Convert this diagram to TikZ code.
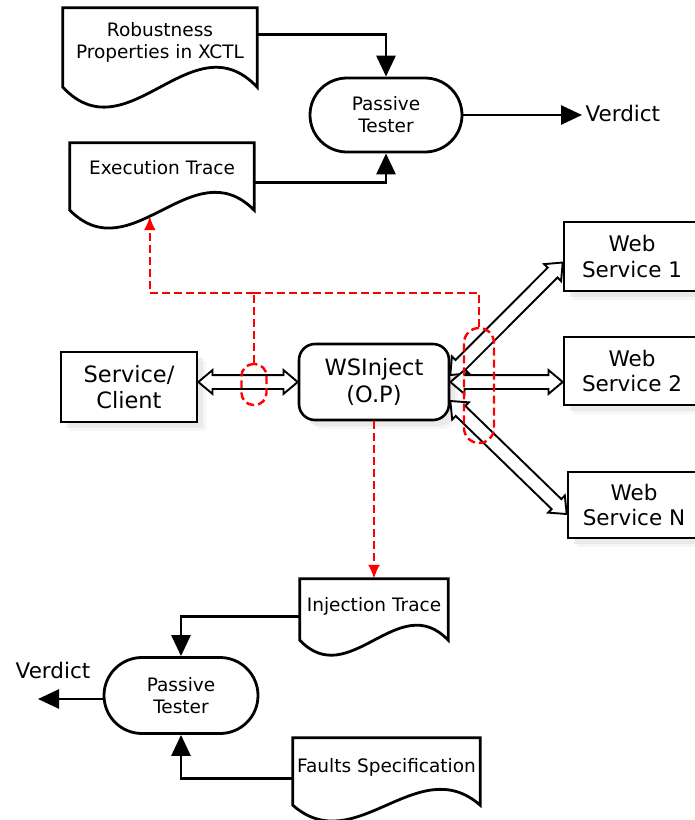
\documentclass[tikz,border=0pt]{standalone}
\usepackage{fontspec}
\setmainfont{DejaVu Sans}
\usetikzlibrary{arrows.meta,calc,shapes.arrows,shadows}
\newcommand{\hollowarrow}[2]{%
  \path let \p1=(#1), \p2=(#2), \n1={atan2(\y2-\y1,\x2-\x1)}, \n2={veclen(\x2-\x1,\y2-\y1)} in
    node[harrow,rotate=\n1,minimum height=\n2] at ($(\p1)!0.5!(\p2)$) {};}
\newcommand{\docoutline}[2]{%
  \draw[docline] (#1.south west) -- (#1.north west) -- (#1.north east) -- (#1.south east)
   .. controls ($(#1.south west)!2/3!(#1.south east)+(0,-#2)$) and ($(#1.south west)!1/3!(#1.south east)+(0,#2)$) .. (#1.south west) -- cycle;}
\begin{document}
\begin{tikzpicture}[x=1pt,y=-1pt,line join=miter,
  flow/.style={line width=2.8pt,-{Triangle[length=21pt,width=19pt]}},
  docshape/.style={draw=none,inner sep=0pt,align=center,font=\fontsize{18.5}{22}\selectfont},
  docline/.style={line width=2.8pt},
  tester/.style={draw,line width=2.8pt,rounded corners=37pt,minimum width=152pt,minimum height=74pt,align=center,font=\fontsize{18.5}{22}\selectfont},
  svc/.style={draw,line width=2.6pt,fill=white,
    drop shadow={shadow xshift=9pt,shadow yshift=-9pt,fill=black!7},
    drop shadow={shadow xshift=6pt,shadow yshift=-6pt,fill=black!13},
    align=center},
  svcfont/.style={font=\fontsize{21.5}{25.5}\selectfont},
  bigfont/.style={font=\fontsize{22.5}{26.5}\selectfont},
  harrow/.style={double arrow,draw,fill=white,line width=1.9pt,inner xsep=0pt,inner ysep=6pt,minimum width=0pt,double arrow head extend=5pt,double arrow tip angle=80,outer sep=0pt},
  reddash/.style={draw=red,line width=2.4pt,dash pattern=on 8pt off 4pt},
  redtip/.style={-{Latex[length=14pt,width=12pt]}},
  verdict/.style={font=\fontsize{21.5}{25}\selectfont}
]
\useasboundingbox (0,0) rectangle (695,820);
\clip (0,0) rectangle (695,820);

% top part
\node[docshape,minimum width=194pt,minimum height=79pt,text depth=14pt] (rob) at (160,47.5) {Robustness\\Properties in XCTL};
\docoutline{rob}{69}
\node[docshape,minimum width=184pt,minimum height=67pt,text depth=18pt] (exe) at (162,176.5) {Execution Trace};
\docoutline{exe}{62}
\node[tester] (pt1) at (386,115) {Passive\\Tester};
\node[verdict,anchor=west] (v1) at (582,113) {Verdict};
\draw[flow] ($(rob.north east)+(0,27)$) -| (pt1.north);
\draw[flow] ($(exe.north east)+(0,40)$) -| (pt1.south);
\draw[flow] (pt1.east) -- (pt1.east -| v1.west);

% middle part
\node[svc,bigfont,minimum width=136pt,minimum height=70pt] (sc) at (129,387) {Service/\\Client};
\node[svc,bigfont,rounded corners=16pt,minimum width=150pt,minimum height=76pt] (wsi) at (374,382) {WSInject\\(O.P)};
\node[svc,svcfont,minimum width=136pt,minimum height=69pt] (ws1) at (632,256.5) {Web\\Service 1};
\node[svc,svcfont,minimum width=136pt,minimum height=68pt] (ws2) at (632,371) {Web\\Service 2};
\node[svc,svcfont,minimum width=132pt,minimum height=66pt] (wsn) at (634,505) {Web\\Service N};

\hollowarrow{sc.east |- wsi.west}{wsi.west}
\hollowarrow{[yshift=7pt]wsi.east}{[yshift=-6pt]ws1.west}
\hollowarrow{wsi.east}{ws2.west |- wsi.east}
\hollowarrow{[yshift=-19pt]wsi.east}{[yshift=-9pt]wsn.west}

\node[reddash,rounded corners=12pt,minimum width=25pt,minimum height=41pt,inner sep=0pt] (e1) at (254,384.5) {};
\node[reddash,rounded corners=15pt,minimum width=30pt,minimum height=115pt,inner sep=0pt] (e2) at (479,385.5) {};

% bottom part
\node[docshape,minimum width=148pt,minimum height=61pt,text depth=10pt] (inj) at (374,609.5) {Injection Trace};
\docoutline{inj}{52}
\node[docshape,minimum width=187pt,minimum height=67pt,text depth=12pt] (fau) at (386.5,771.5) {Faults Specification};
\docoutline{fau}{55}
\node[tester,minimum width=154pt,minimum height=76pt,rounded corners=38pt] (pt2) at (181,695.5) {Passive\\Tester};
\node[verdict] (v2) at (53,670) {Verdict};
\coordinate (vend) at (38,699);
\draw[flow] ($(inj.north west)+(0,38)$) -| (pt2.north);
\draw[flow] ($(fau.north west)+(0,41)$) -| (pt2.south);
\draw[flow] (pt2.west |- vend) -- (vend);

% red trace connectors
\coordinate (rtop) at (254,293);
\coordinate (exehit) at ($(exe.south west)+(80,6)$);
\draw[reddash] (e1.north) -- (rtop);
\draw[reddash] (e2.north) |- (rtop);
\draw[reddash,redtip] (rtop) -| (exehit);
\draw[reddash,redtip] (wsi.south) -- (inj.north);
\end{tikzpicture}
\end{document}
